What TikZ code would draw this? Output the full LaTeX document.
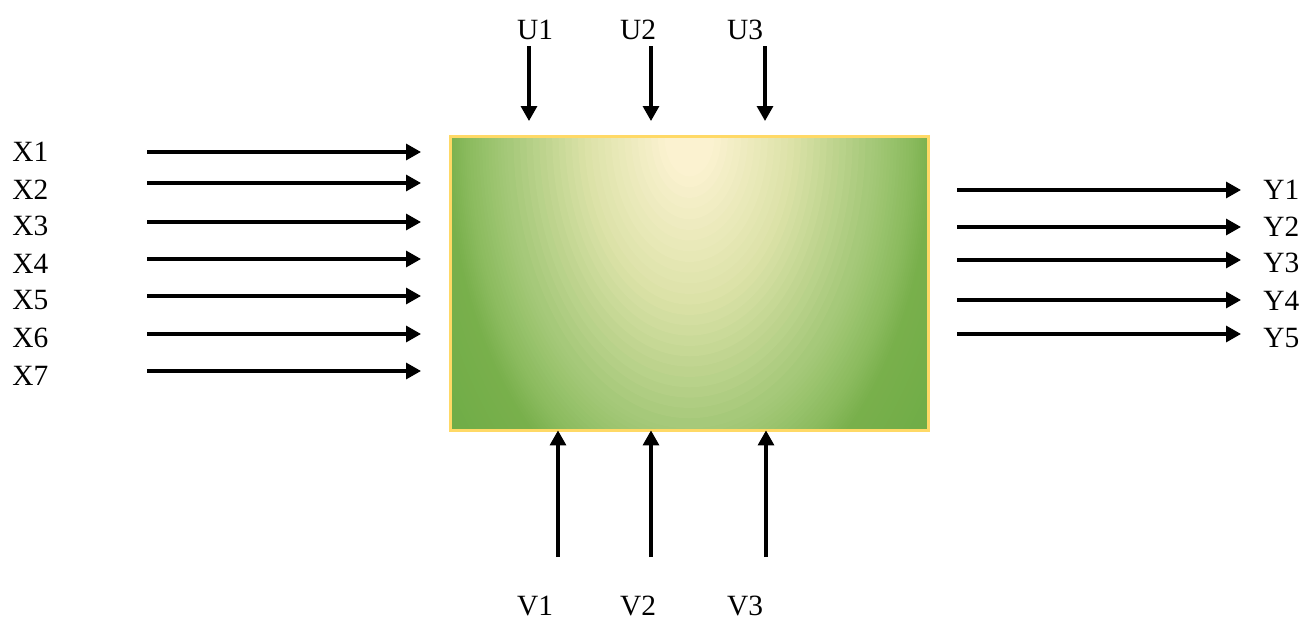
\documentclass[tikz,border=0pt]{standalone}
\usepackage{fontspec}
\setmainfont{Liberation Serif}
\usetikzlibrary{arrows.meta,positioning}

\definecolor{glowa}{HTML}{FBF2D0}
\definecolor{glowb}{HTML}{DCE2A8}
\definecolor{glowc}{HTML}{A6C97A}
\definecolor{glowf}{HTML}{8DBC60}
\definecolor{glowd}{HTML}{79B04C}
\definecolor{glowe}{HTML}{70AD47}
\definecolor{rimyellow}{HTML}{FFD966}

\tikzset{
  lbl/.style={font=\fontsize{14.7}{17}\selectfont,inner sep=0pt},
  flow/.style={line width=1.6pt,-{Triangle[length=7.5pt,width=8pt]}},
}

\begin{document}
\begin{tikzpicture}[x=0.5pt,y=-0.5pt,line join=miter]
\path[use as bounding box] (0,0) rectangle (1301,616);
% system box, glow from the top centre
\node[minimum width=238.5pt,minimum height=146.5pt,inner sep=0pt] (sys) at (689.5,283.5) {};
\begin{scope}
  \clip (sys.south west) rectangle (sys.north east);
  \fill[glowe] (sys.south west) rectangle (sys.north east);
  \foreach \da/\db/\ca/\cb in {1.2/0.97/glowe/glowd,0.97/0.88/glowd/glowf,0.88/0.73/glowf/glowc,0.73/0.42/glowc/glowb,0.42/0.1/glowb/glowa,0.1/0.02/glowa/glowa} {
    \foreach \k in {0,...,11} {
      \pgfmathsetmacro\dd{\da+(\db-\da)*\k/12}
      \pgfmathtruncatemacro\pp{100-100*\k/12}
      \fill[\ca!\pp!\cb] (sys.north) ellipse [x radius=250*\dd, y radius=400*\dd];
    }
  }
\end{scope}
\draw[rimyellow,line width=1.2pt] (sys.south west) rectangle (sys.north east);
% inputs
\foreach \i/\ya/\yl in {1/152/152,2/183/190,3/222/226,4/259/264,5/296/300,6/334/338,7/371/376} {
  \coordinate (xs\i) at (147,\ya);
  \coordinate (xe\i) at (421,\ya);
  \node[lbl,anchor=west] (xl\i) at (12,\yl) {X\i};
  \draw[flow] (xs\i) -- (xe\i);
}
% outputs
\foreach \i/\ya/\yl in {1/190/190,2/227/227,3/260/263,4/300/301,5/334/338} {
  \coordinate (ys\i) at (957,\ya);
  \coordinate (ye\i) at (1241,\ya);
  \node[lbl,anchor=west] (yl\i) at (1263,\yl) {Y\i};
  \draw[flow] (ys\i) -- (ye\i);
}
% controls from above
\foreach \i/\xa/\xl in {1/529/535,2/651/638,3/765/745} {
  \coordinate (us\i) at (\xa,46);
  \coordinate (ue\i) at (\xa,121);
  \node[lbl] (ul\i) at (\xl,30) {U\i};
  \draw[flow] (us\i) -- (ue\i);
}
% disturbances from below
\foreach \i/\xa/\xl in {1/558/535,2/651/638,3/766/745} {
  \coordinate (vs\i) at (\xa,557);
  \node[lbl] (vl\i) at (\xl,606) {V\i};
  \draw[flow] (vs\i) -- (vs\i |- sys.south);
}
\end{tikzpicture}
\end{document}
